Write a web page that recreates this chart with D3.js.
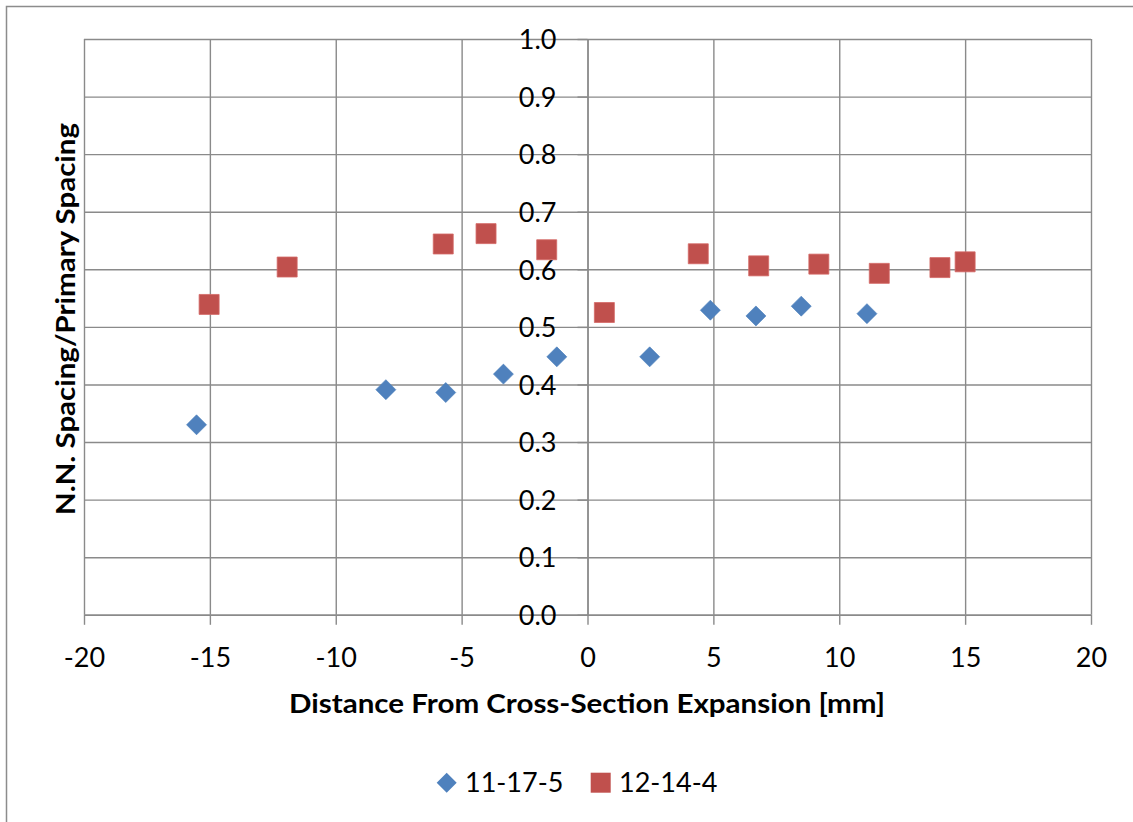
<!DOCTYPE html>
<html>
<head>
<meta charset="utf-8">
<script src="https://cdn.jsdelivr.net/npm/d3@7"></script>
<style>
  html, body { margin: 0; padding: 0; background: #fff; }
  svg { display: block; }
  text { font-family: Lato, "Open Sans", sans-serif; fill: #000; }
</style>
</head>
<body>
<svg id="chart" width="1133" height="822"></svg>
<script>
// Series 11-17-5: distance [mm] and normalised nearest-neighbour spacing
const s1X = [-15.53, -8.01, -5.63, -3.34, -1.22, 2.47, 4.88, 6.69, 8.49, 11.10];
const s1Y = [0.330, 0.391, 0.386, 0.418, 0.448, 0.448, 0.529, 0.519, 0.536, 0.523];

// Series 12-14-4
const s2X = [-15.03, -11.93, -5.73, -4.03, -1.62, 0.67, 4.40, 6.80, 9.19, 11.59, 14.00, 15.00];
const s2Y = [0.539, 0.604, 0.644, 0.662, 0.634, 0.525, 0.627, 0.606, 0.609, 0.593, 0.603, 0.613];

const seriesNames = ["11-17-5", "12-14-4"];
const xTicks = [-20, -15, -10, -5, 0, 5, 10, 15, 20];
const yTicks = [0, 0.1, 0.2, 0.3, 0.4, 0.5, 0.6, 0.7, 0.8, 0.9, 1.0];
const xTitle = "Distance From Cross-Section Expansion [mm]";
const yTitle = "N.N. Spacing/Primary Spacing";

const blue = "#4F81BD", red = "#C0504D", grid = "#8a8a8a";
const fontSize = 27;

const svg = d3.select("#chart");

// chart area frame
svg.append("rect")
  .attr("x", 6.5).attr("y", 6.5)
  .attr("width", 1140).attr("height", 830)
  .attr("fill", "#fff").attr("stroke", "#8c8c8c").attr("stroke-width", 1.5);

const x = d3.scaleLinear().domain([-20, 20]).range([84, 1091]);
const y = d3.scaleLinear().domain([0, 1]).range([614.8, 39]);

// gridlines
const g = svg.append("g");
g.append("g")
  .attr("transform", `translate(0,${y(1)})`)
  .call(d3.axisBottom(x).tickValues(xTicks).tickSize(y(0) - y(1)).tickFormat(""))
  .call(a => a.select(".domain").remove())
  .selectAll("line").attr("stroke", grid).attr("stroke-width", 1.4);
g.append("g")
  .attr("transform", `translate(${x(-20)},0)`)
  .call(d3.axisRight(y).tickValues(yTicks).tickSize(x(20) - x(-20)).tickFormat(""))
  .call(a => a.select(".domain").remove())
  .selectAll("line").attr("stroke", grid).attr("stroke-width", 1.4);

// x axis along y = 0
const xAxis = svg.append("g")
  .attr("transform", `translate(0,${y(0)})`)
  .call(d3.axisBottom(x).tickValues(xTicks).tickSize(10).tickSizeOuter(0).tickFormat(d3.format("d")));
xAxis.select(".domain").attr("stroke", grid).attr("stroke-width", 1.4);
xAxis.selectAll("line").attr("stroke", grid).attr("stroke-width", 1.4);
xAxis.selectAll("text")
  .attr("y", 52).attr("dy", null)
  .style("font-size", fontSize + "px").style("font-family", "Lato, sans-serif")
  .text(d => d < 0 ? "-" + Math.abs(d) : d);

// y axis crossing at x = 0
const yAxis = svg.append("g")
  .attr("transform", `translate(${x(0)},0)`)
  .call(d3.axisLeft(y).tickValues(yTicks).tickSize(10).tickSizeOuter(0).tickFormat(d3.format(".1f")));
yAxis.select(".domain").attr("stroke", grid).attr("stroke-width", 1.4);
yAxis.selectAll("line").attr("stroke", grid).attr("stroke-width", 1.4);
yAxis.selectAll("text")
  .attr("x", -31).attr("dy", "0.36em")
  .style("font-size", fontSize + "px").style("font-family", "Lato, sans-serif");

// axis titles
svg.append("text")
  .attr("x", 587).attr("y", 713)
  .attr("text-anchor", "middle")
  .attr("textLength", 596).attr("lengthAdjust", "spacingAndGlyphs")
  .style("font-size", "26px").style("font-weight", "bold")
  .text(xTitle);

svg.append("text")
  .attr("transform", "translate(75,319) rotate(-90)")
  .attr("text-anchor", "middle")
  .attr("textLength", 392).attr("lengthAdjust", "spacingAndGlyphs")
  .style("font-size", "26px").style("font-weight", "bold")
  .text(yTitle);

// markers
const diamond = d3.symbol().type(d3.symbolSquare).size(200);
const square = d3.symbol().type(d3.symbolSquare).size(400);

svg.append("g").selectAll("path")
  .data(s1X.map((v, i) => [v, s1Y[i]]))
  .join("path")
  .attr("d", diamond)
  .attr("transform", d => `translate(${x(d[0])},${y(d[1])}) rotate(45)`)
  .attr("fill", blue).attr("stroke", "#4A7EBB").attr("stroke-width", 0.6);

svg.append("g").selectAll("path")
  .data(s2X.map((v, i) => [v, s2Y[i]]))
  .join("path")
  .attr("d", square)
  .attr("transform", d => `translate(${x(d[0])},${y(d[1])})`)
  .attr("fill", red).attr("stroke", "#d46a67").attr("stroke-width", 0.8);

// legend
const legend = svg.append("g");
legend.append("path").attr("d", diamond)
  .attr("transform", "translate(446.7,782.7) rotate(45)")
  .attr("fill", blue);
legend.append("text").attr("x", 465).attr("y", 792)
  .style("font-size", fontSize + "px").text(seriesNames[0]);
legend.append("path").attr("d", square)
  .attr("transform", "translate(600.7,782.7)")
  .attr("fill", red);
legend.append("text").attr("x", 619).attr("y", 792)
  .style("font-size", fontSize + "px").text(seriesNames[1]);
</script>
</body>
</html>
